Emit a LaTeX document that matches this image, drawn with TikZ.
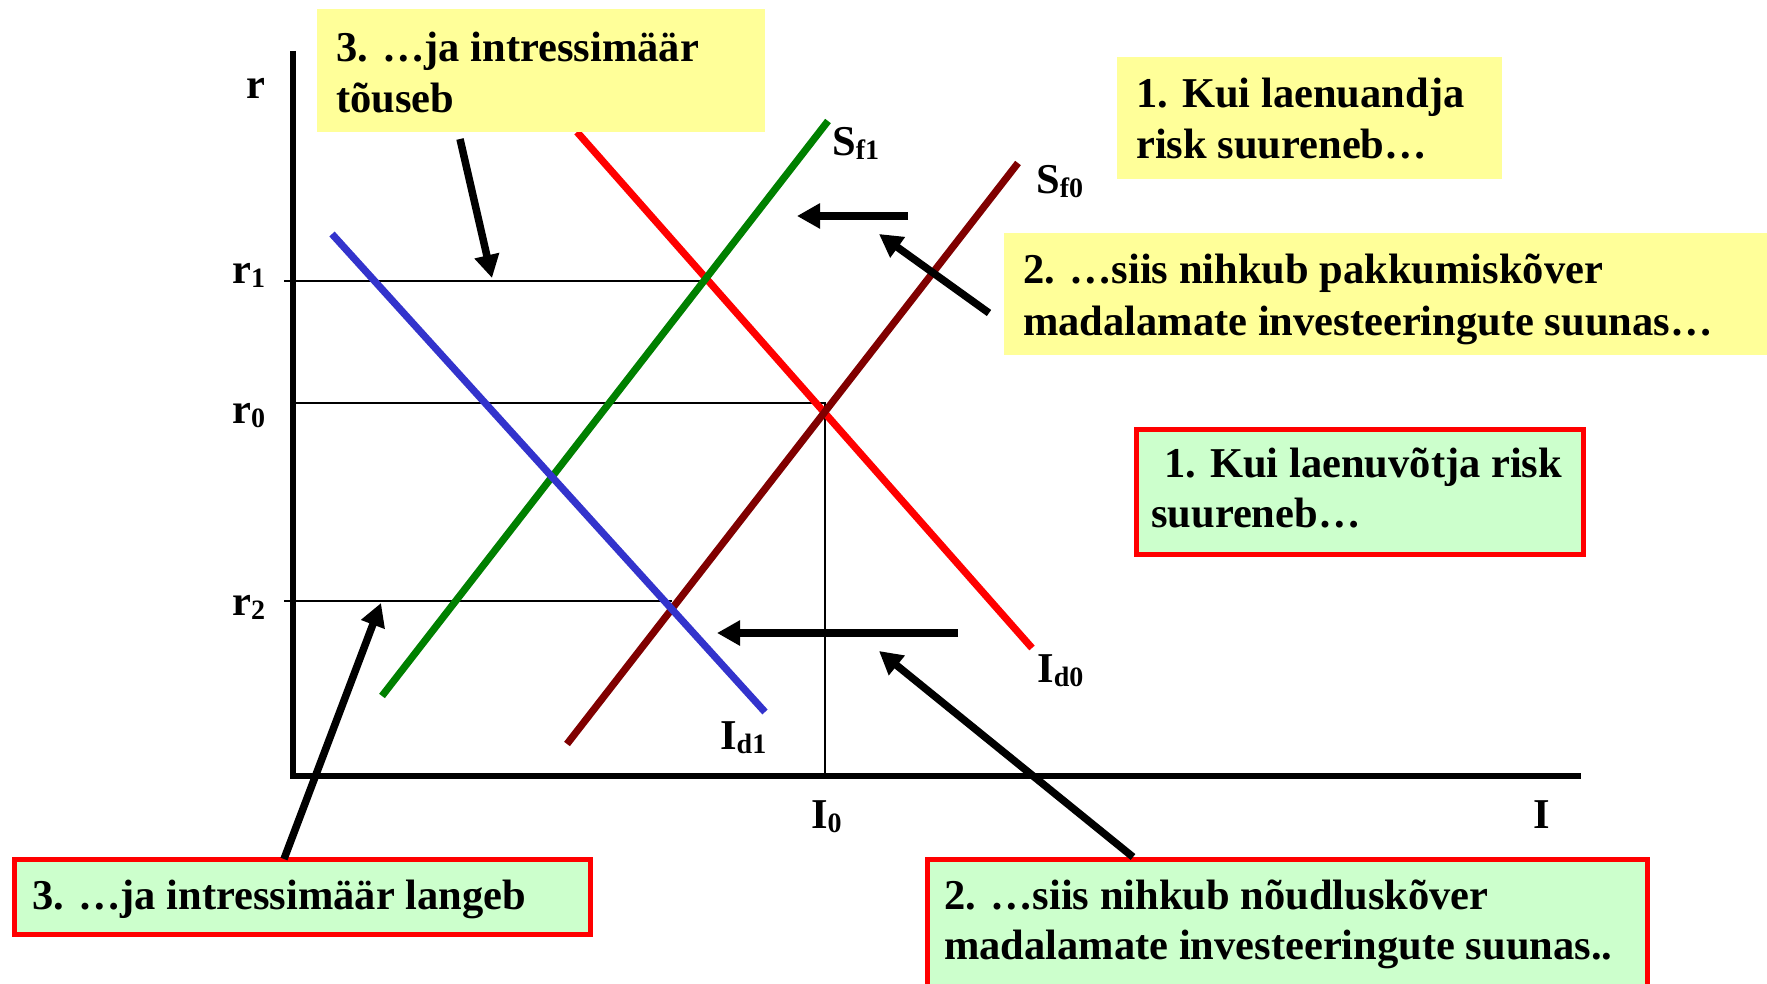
\documentclass[tikz,border=0pt]{standalone}
\usepackage{fontspec}
\setmainfont{Liberation Serif}
\usetikzlibrary{arrows.meta}
\definecolor{yel}{HTML}{FFFF99}
\definecolor{grn}{HTML}{CCFFCC}
\definecolor{dkred}{HTML}{800000}
\definecolor{sgreen}{HTML}{008000}
\definecolor{iblue}{HTML}{3333CC}
\newcommand{\sbs}[1]{\raisebox{-4pt}{\fontsize{28}{28}\selectfont #1}}
\begin{document}
\begin{tikzpicture}[x=1pt,y=-1pt,
 txt/.style={font=\fontsize{42.5}{51}\selectfont\bfseries, inner sep=0pt, anchor=base west},
 lbl/.style={font=\fontsize{42.5}{51}\selectfont\bfseries, inner sep=0pt, anchor=base west},
 ybox/.style={fill=yel, draw=none, anchor=north west, inner sep=0pt},
 gbox/.style={fill=grn, draw=red, line width=4.5pt, anchor=north west, inner sep=0pt},
 curve/.style={line width=7.2pt},
 guide/.style={line width=2.7pt},
 axisline/.style={line width=6.2pt},
 arr/.style={line width=7.5pt, -{Triangle[length=23pt,width=24pt]}},
]
\useasboundingbox (0,0) rectangle (1767,984);
% axes
\coordinate (O) at (293,776);
\coordinate (Ytop) at (293,51);
\coordinate (Xend) at (1581,776);
% guides
\coordinate (r1a) at (284,281);
\coordinate (r1b) at (708,281);
\coordinate (r0a) at (293,403);
\coordinate (r0b) at (825,403);
\coordinate (I0b) at (825,776);
\coordinate (r2a) at (284,601);
\coordinate (r2b) at (672,601);
\draw[guide] (r1a) -- (r1b);
\draw[guide] (r0a) -- (r0b) -- (I0b);
\draw[guide] (r2a) -- (r2b);
% curves
\coordinate (Id0a) at (577,132);
\coordinate (Id0b) at (1032,648);
\coordinate (Sf0a) at (567,744);
\coordinate (Sf0b) at (1018,163);
\coordinate (Sf1a) at (382,696);
\coordinate (Sf1b) at (828,121);
\coordinate (Id1a) at (332,234);
\coordinate (Id1b) at (765,712);
\draw[curve, red] (Id0a) -- (Id0b);
\draw[curve, dkred] (Sf0a) -- (Sf0b);
\draw[curve, sgreen] (Sf1a) -- (Sf1b);
\draw[curve, iblue] (Id1a) -- (Id1b);
\draw[axisline] (Ytop) -- (O) -- (Xend);
% axis labels
\node[lbl] (lr) at (246,99) {r};
\node[lbl] (lr1) at (232,284) {r\sbs{1}};
\node[lbl] (lr0) at (232,423) {r\sbs{0}};
\node[lbl] (lr2) at (232,615) {r\sbs{2}};
\node[lbl] (lI0) at (811,828) {I\sbs{0}};
\node[lbl] (lI) at (1533,828) {I};
\node[lbl] (lSf1) at (832,156) {S\sbs{f1}};
\node[lbl] (lSf0) at (1036,194) {S\sbs{f0}};
\node[lbl] (lId0) at (1037,682) {I\sbs{d0}};
\node[lbl] (lId1) at (720,749) {I\sbs{d1}};
% boxes
\node[ybox, minimum width=448pt, minimum height=123pt] (bA) at (317,9) {};
\node[ybox, minimum width=385pt, minimum height=122pt] (bB) at (1117,57) {};
\node[ybox, minimum width=763pt, minimum height=122pt] (bC) at (1004,233) {};
\node[gbox, minimum width=447pt, minimum height=125pt] (bD) at (1134,427) {};
\node[gbox, minimum width=576pt, minimum height=75pt] (bE) at (12,857) {};
\node[gbox, minimum width=720pt, minimum height=140pt] (bF) at (925,857) {};
% texts
\node[txt] (tA1) at (336,62) {3. …ja intressimäär};
\node[txt] (tA2) at (336,113) {tõuseb};
\node[txt] (tB1) at (1136,108) {1. Kui laenuandja};
\node[txt] (tB2) at (1136,159) {risk suureneb…};
\node[txt] (tC1) at (1023,284) {2. …siis nihkub pakkumiskõver};
\node[txt] (tC2) at (1023,335) {madalamate investeeringute suunas…};
\node[txt] (tD1) at (1164,477) {1. Kui laenuvõtja risk};
\node[txt] (tD2) at (1151,527) {suureneb…};
\node[txt] (tE1) at (32,909) {3. …ja intressimäär langeb};
\node[txt] (tF1) at (944,909) {2. …siis nihkub nõudluskõver};
\node[txt] (tF2) at (944,959) {madalamate investeeringute suunas..};
% arrows
\coordinate (h1s) at (908,216);
\coordinate (h1e) at (797,216);
\coordinate (h2s) at (958,633);
\coordinate (h2e) at (717,633);
\coordinate (dCs) at (989,313);
\coordinate (dCe) at (879,234);
\coordinate (dFs) at (1133,857);
\coordinate (dFe) at (879,651);
\coordinate (dAs) at (460,139);
\coordinate (dAe) at (492,278);
\coordinate (dEs) at (284,859);
\coordinate (dEe) at (381,603);
\draw[arr] (h1s) -- (h1e);
\draw[arr] (h2s) -- (h2e);
\draw[arr] (dCs) -- (dCe);
\draw[arr] (dFs) -- (dFe);
\draw[arr] (dAs) -- (dAe);
\draw[arr] (dEs) -- (dEe);
\end{tikzpicture}
\end{document}
